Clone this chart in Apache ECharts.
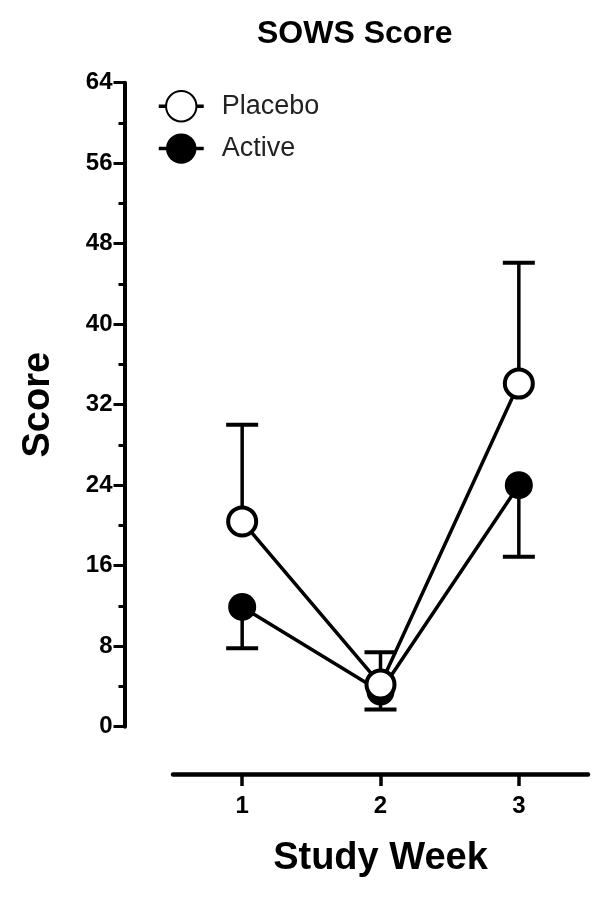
<!DOCTYPE html>
<html>
<head>
<meta charset="utf-8">
<script src="https://cdn.jsdelivr.net/npm/echarts@6/dist/echarts.min.js"></script>
<style>html,body{margin:0;padding:0;background:#fff;}#c{width:610px;height:900px;}</style>
</head>
<body>
<div id="c"></div>
<script>
var weeks = ['1', '2', '3'];
var placeboMean = [20.4, 4.2, 34.1];
var placeboUpper = [30.0, 7.4, 46.1];
var activeMean = [11.9, 3.5, 24.0];
var activeLower = [7.8, 1.7, 16.9];
var yTicks = [0, 8, 16, 24, 32, 40, 48, 56, 64];

var FONT = '"Liberation Sans", Arial, Helvetica, sans-serif';

function errData(mean, bound) {
  return weeks.map(function (w, i) { return [i, mean[i], bound[i]]; });
}
function errRender(params, api) {
  var x = api.value(0);
  var p0 = api.coord([x, api.value(1)]);
  var p1 = api.coord([x, api.value(2)]);
  var hw = 16;
  return {
    type: 'group',
    children: [
      { type: 'line', shape: { x1: p0[0], y1: p0[1], x2: p1[0], y2: p1[1] },
        style: { stroke: '#000', lineWidth: 3.5 } },
      { type: 'line', shape: { x1: p1[0] - hw, y1: p1[1], x2: p1[0] + hw, y2: p1[1] },
        style: { stroke: '#000', lineWidth: 4 } }
    ]
  };
}

var chart = echarts.init(document.getElementById('c'));
chart.setOption({
  animation: false,
  backgroundColor: '#fff',
  title: {
    text: 'SOWS Score',
    left: 257, top: 18, padding: 0,
    textStyle: { fontFamily: FONT, fontWeight: 'bold', fontSize: 32, color: '#000' }
  },
  legend: {
    left: 157, top: 90, orient: 'vertical', padding: 0,
    itemWidth: 45, itemHeight: 38, itemGap: 11,
    data: ['Placebo', 'Active'],
    lineStyle: { color: '#000', width: 3.5 },
    textStyle: { fontFamily: FONT, fontSize: 27, color: '#222', padding: [0, 0, 0, 13] }
  },
  grid: { left: 173, right: 22, top: 82.7, bottom: 173.3 },
  xAxis: {
    type: 'category',
    data: weeks,
    boundaryGap: true,
    offset: 47.3,
    name: 'Study Week',
    nameLocation: 'middle',
    nameGap: 66,
    nameTextStyle: { fontFamily: FONT, fontWeight: 'bold', fontSize: 38, color: '#000' },
    axisLine: { show: true, onZero: false, lineStyle: { color: '#000', width: 4.5 } },
    axisTick: { show: true, alignWithLabel: true, length: 12, lineStyle: { color: '#000', width: 3.5 } },
    axisLabel: { margin: 20, fontFamily: FONT, fontWeight: 'bold', fontSize: 24, color: '#000' },
    splitLine: { show: false }
  },
  yAxis: {
    type: 'value',
    min: yTicks[0], max: yTicks[yTicks.length - 1], interval: 8,
    offset: 48.5,
    name: 'Score',
    nameLocation: 'middle',
    nameRotate: 90,
    nameGap: 67,
    nameTextStyle: { fontFamily: FONT, fontWeight: 'bold', fontSize: 38, color: '#000' },
    axisLine: { show: true, lineStyle: { color: '#000', width: 4 } },
    axisTick: { show: true, length: 11, lineStyle: { color: '#000', width: 3 } },
    minorTick: { show: true, splitNumber: 2, length: 6, lineStyle: { color: '#000', width: 3 } },
    axisLabel: { margin: 12, fontFamily: FONT, fontWeight: 'bold', fontSize: 24, color: '#000' },
    splitLine: { show: false }
  },
  series: [
    {
      name: 'ActiveErr', type: 'custom', renderItem: errRender,
      data: errData(activeMean, activeLower), z: 1, silent: true
    },
    {
      name: 'PlaceboErr', type: 'custom', renderItem: errRender,
      data: errData(placeboMean, placeboUpper), z: 1, silent: true
    },
    {
      name: 'Active', type: 'line', data: activeMean, z: 3,
      symbol: 'circle', symbolSize: 28, showAllSymbol: true,
      lineStyle: { color: '#000', width: 3.5 },
      itemStyle: { color: '#000', borderColor: '#000', borderWidth: 0 }
    },
    {
      name: 'Placebo', type: 'line', data: placeboMean, z: 4,
      symbol: 'circle', symbolSize: 28, showAllSymbol: true,
      lineStyle: { color: '#000', width: 3.5 },
      itemStyle: { color: '#fff', borderColor: '#000', borderWidth: 4 }
    }
  ]
});
</script>
</body>
</html>
